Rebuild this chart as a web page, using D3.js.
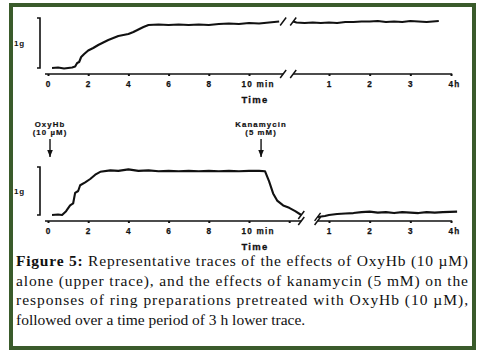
<!DOCTYPE html>
<html>
<head>
<meta charset="utf-8">
<script src="https://cdn.jsdelivr.net/npm/d3@7"></script>
<style>
  body { margin: 0; background: #fff; }
  .lbl { font-family: "Liberation Sans", Arial, sans-serif; font-weight: bold; fill: #111; }
  .cap { font-family: "Liberation Serif", "Times New Roman", serif; font-size: 15.5px; fill: #111; }
</style>
</head>
<body>
<svg id="fig" width="478" height="353"></svg>
<script>
// ---- data (time in min / h, tension in g) ----
var upperMinT = [0.2, 0.5, 0.8, 1.0, 1.2, 1.35, 1.45, 1.55, 1.65, 1.8, 2.0, 2.25, 2.5, 2.75, 3.0, 3.25, 3.5, 3.75, 4.0, 4.25, 4.5, 4.75, 5.0, 5.5, 6.0, 6.5, 7.0, 7.5, 8.0, 8.5, 9.0, 9.5, 10.0, 10.5, 11.0, 11.5]
var upperMinG = [0.0, 0.01, -0.01, 0.0, 0.01, 0.03, 0.1, 0.12, 0.22, 0.28, 0.35, 0.4, 0.46, 0.51, 0.56, 0.6, 0.64, 0.66, 0.68, 0.72, 0.77, 0.82, 0.86, 0.87, 0.86, 0.87, 0.86, 0.87, 0.86, 0.88, 0.89, 0.88, 0.9, 0.89, 0.91, 0.93]
var upperHrT = [0.12, 0.2, 0.4, 0.6, 0.8, 1.0, 1.2, 1.4, 1.6, 1.8, 2.0, 2.2, 2.4, 2.6, 2.8, 3.0, 3.2, 3.4, 3.7]
var upperHrG = [0.93, 0.91, 0.9, 0.91, 0.9, 0.91, 0.9, 0.92, 0.92, 0.93, 0.93, 0.94, 0.92, 0.93, 0.92, 0.94, 0.93, 0.92, 0.94]

var lowerMinT = [0.2, 0.5, 0.7, 0.9, 1.1, 1.25, 1.35, 1.5, 1.6, 1.85, 2.1, 2.35, 2.6, 3.1, 3.5, 4.0, 4.5, 5.0, 5.5, 6.0, 6.5, 7.0, 7.5, 8.0, 8.5, 9.0, 9.5, 10.0, 10.5, 10.8, 11.0, 11.2, 11.4, 11.7, 12.0, 12.3, 12.6]
var lowerMinG = [0.0, 0.01, 0.0, 0.08, 0.2, 0.24, 0.46, 0.5, 0.62, 0.68, 0.75, 0.84, 0.9, 0.93, 0.92, 0.95, 0.92, 0.93, 0.91, 0.92, 0.91, 0.92, 0.91, 0.92, 0.91, 0.92, 0.91, 0.92, 0.92, 0.91, 0.7, 0.45, 0.3, 0.2, 0.15, 0.08, 0.0]
var lowerHrT = [0.72, 0.9, 1.0, 1.2, 1.4, 1.6, 1.8, 2.0, 2.2, 2.4, 2.6, 2.8, 3.0, 3.2, 3.4, 3.6, 3.8, 4.15]
var lowerHrG = [-0.04, -0.02, 0.0, 0.02, 0.03, 0.04, 0.06, 0.07, 0.05, 0.06, 0.04, 0.06, 0.05, 0.04, 0.06, 0.05, 0.06, 0.07]

var minTicksUpper = [0, 2, 4, 6, 8, 10]
var minTicksLower = [0, 2, 4, 6, 8, 10, 12]
var minTickLabels = ["0", "2", "4", "6", "8", "10 min", ""]
var hrTicks = [1, 2, 3, 4]
var hrTickLabels = ["1", "2", "3", "4h"]

var arrowTimes = [0.1, 10.6]
var arrowLabels = [["OxyHb", "(10 \u00b5M)"], ["Kanamycin", "(5 mM)"]]

var captionLines = [
  ["Figure 5:", " Representative traces of the effects of OxyHb (10 \u00b5M)"],
  ["", "alone (upper trace), and the effects of kanamycin (5 mM) on the"],
  ["", "responses of ring preparations pretreated with OxyHb (10 \u00b5M),"],
  ["", "followed over a time period of 3 h lower trace."]
]

// ---- scales ----
var svg = d3.select("#fig")
var xMin = d3.scaleLinear().domain([0, 10]).range([48, 249])
var xHr = d3.scaleLinear().domain([1, 4]).range([329, 451])

var panels = [
  { y: d3.scaleLinear().domain([0, 1]).range([68, 18]), axisY: 74, minEnd: 11.7, hrStart: 0.12,
    minT: upperMinT, minG: upperMinG, hrT: upperHrT, hrG: upperHrG, ticks: minTicksUpper, timeY: 103 },
  { y: d3.scaleLinear().domain([0, 1]).range([215, 167]), axisY: 221, minEnd: 12.6, hrStart: 0.72,
    minT: lowerMinT, minG: lowerMinG, hrT: lowerHrT, hrG: lowerHrG, ticks: minTicksLower, timeY: 250 }
]

// frame
svg.append("rect")
  .attr("x", 11).attr("y", 5).attr("width", 463).attr("height", 343)
  .attr("fill", "none").attr("stroke", "#3a5b2b").attr("stroke-width", 4)

function slash(g, x, y) {
  g.append("line")
    .attr("x1", x - 3).attr("y1", y + 4).attr("x2", x + 3).attr("y2", y - 4)
    .attr("stroke", "#111").attr("stroke-width", 1.5)
}

panels.forEach(function (p) {
  var g = svg.append("g")
  var line = d3.line().curve(d3.curveLinear)

  // traces
  var minPts = p.minT.map(function (t, i) { return [xMin(t), p.y(p.minG[i])] })
  var hrPts = p.hrT.map(function (t, i) { return [xHr(t), p.y(p.hrG[i])] })
  g.append("path").attr("d", line(minPts))
    .attr("fill", "none").attr("stroke", "#111").attr("stroke-width", 2.1).attr("stroke-linejoin", "round")
  g.append("path").attr("d", line(hrPts))
    .attr("fill", "none").attr("stroke", "#111").attr("stroke-width", 2.1).attr("stroke-linejoin", "round")
  slash(g, xMin(p.minEnd), minPts[minPts.length - 1][1])
  slash(g, xHr(p.hrStart), hrPts[0][1])

  // axis lines with break
  g.append("line")
    .attr("x1", xMin(-0.15)).attr("x2", xMin(p.minEnd)).attr("y1", p.axisY).attr("y2", p.axisY)
    .attr("stroke", "#111").attr("stroke-width", 1.4)
  g.append("line")
    .attr("x1", xHr(p.hrStart)).attr("x2", xHr(4.03)).attr("y1", p.axisY).attr("y2", p.axisY)
    .attr("stroke", "#111").attr("stroke-width", 1.4)
  slash(g, xMin(p.minEnd), p.axisY)
  slash(g, xHr(p.hrStart), p.axisY)

  // ticks
  var axMin = g.append("g").attr("transform", "translate(0," + p.axisY + ")")
    .call(d3.axisBottom(xMin).tickValues(p.ticks).tickSize(2).tickPadding(5)
      .tickFormat(function (d, i) { return minTickLabels[i] }))
  var axHr = g.append("g").attr("transform", "translate(0," + p.axisY + ")")
    .call(d3.axisBottom(xHr).tickValues(hrTicks).tickSize(2).tickPadding(5)
      .tickFormat(function (d, i) { return hrTickLabels[i] }))
  ;[axMin, axHr].forEach(function (ax) {
    ax.select(".domain").remove()
    ax.selectAll(".tick line").attr("stroke", "#111").attr("stroke-width", 2)
    ax.selectAll(".tick text").attr("class", "lbl").attr("font-size", 8.2)
      .attr("stroke", "#111").attr("stroke-width", 0.25)
      .style("letter-spacing", "1.2px")
  })
  axMin.selectAll(".tick text").filter(function (d) { return d === 10 })
    .attr("text-anchor", "start").attr("x", -8)
  axHr.selectAll(".tick text").filter(function (d) { return d === 4 })
    .attr("x", 3)

  g.append("text").attr("class", "lbl")
    .attr("x", 255).attr("y", p.timeY).attr("text-anchor", "middle")
    .attr("font-size", 9.5).attr("stroke", "#111").attr("stroke-width", 0.3)
    .style("letter-spacing", "1.3px").text("Time")

  // 1 g scale bar
  var y0 = p.y(0), y1 = p.y(1)
  g.append("path")
    .attr("d", "M37," + y1 + "H40V" + y0 + "H37")
    .attr("fill", "none").attr("stroke", "#111").attr("stroke-width", 1.6)
  g.append("text").attr("class", "lbl")
    .attr("x", 14).attr("y", (y0 + y1) / 2 + 3)
    .attr("font-size", 8).style("letter-spacing", "0.8px").text("1g")
})

// arrows (lower panel)
svg.append("defs").append("marker")
  .attr("id", "ah").attr("viewBox", "0 0 10 10").attr("refX", 10).attr("refY", 5)
  .attr("markerWidth", 5).attr("markerHeight", 5).attr("orient", "auto")
  .append("path").attr("d", "M0,1L10,5L0,9Z").attr("fill", "#111")

arrowTimes.forEach(function (t, i) {
  var x = xMin(t)
  svg.append("line")
    .attr("x1", x).attr("x2", x).attr("y1", 139).attr("y2", 157)
    .attr("stroke", "#111").attr("stroke-width", 1.4).attr("marker-end", "url(#ah)")
  arrowLabels[i].forEach(function (s, j) {
    svg.append("text").attr("class", "lbl")
      .attr("x", x).attr("y", 127 + j * 8).attr("text-anchor", "middle")
      .attr("font-size", 7.8).attr("stroke", "#111").attr("stroke-width", 0.2)
      .style("letter-spacing", "1.1px").text(s)
  })
})

// caption
captionLines.forEach(function (parts, i) {
  var t = svg.append("text").attr("class", "cap")
    .attr("x", 16).attr("y", 266 + i * 19.5)
  if (parts[0]) t.append("tspan").attr("font-weight", "bold").text(parts[0])
  t.append("tspan").text(parts[1])
  if (i < 3) t.attr("textLength", 452).attr("lengthAdjust", "spacing")
})
</script>
</body>
</html>
